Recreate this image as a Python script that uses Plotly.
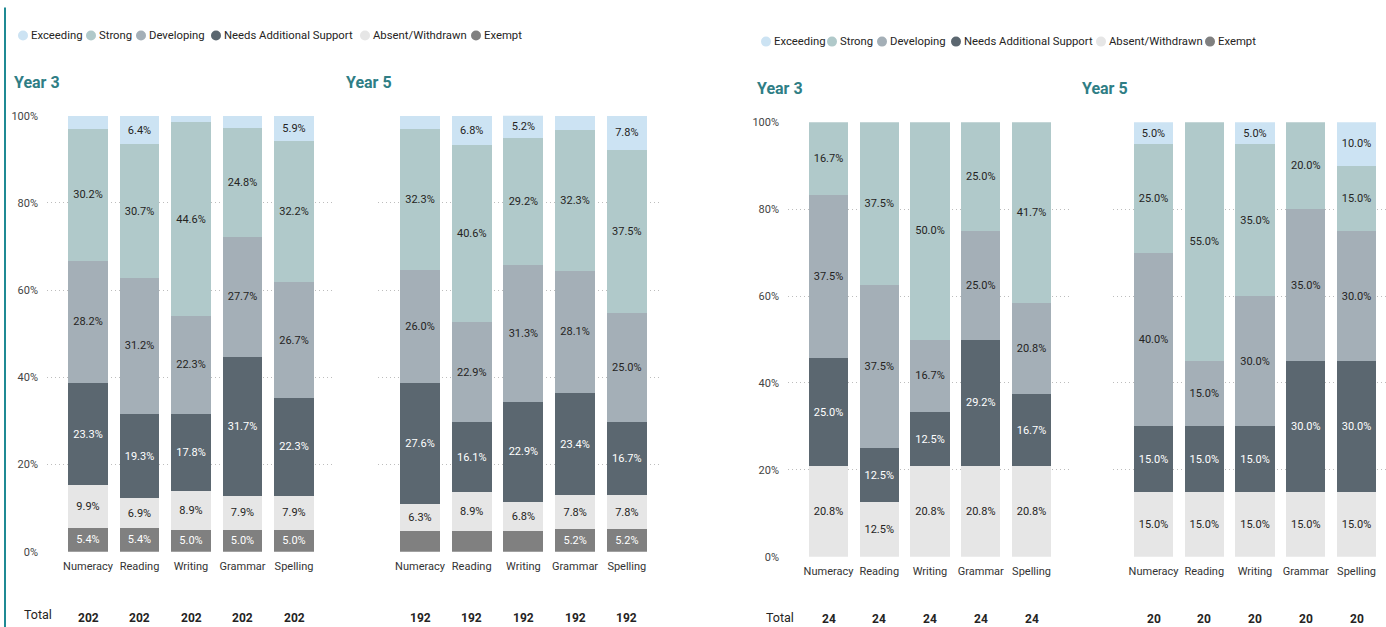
import plotly.graph_objects as go

# ---------------- DATA ----------------
categories = ["Numeracy", "Reading", "Writing", "Grammar", "Spelling"]
series_names = ["Exceeding", "Strong", "Developing", "Needs Additional Support",
                "Absent/Withdrawn", "Exempt"]
tick_values = [0, 20, 40, 60, 80, 100]

# Left report - Year 3 (percent of students)
L3_exceeding = [3.0, 6.4, 1.4, 2.9, 5.9]
L3_strong = [30.2, 30.7, 44.6, 24.8, 32.2]
L3_developing = [28.2, 31.2, 22.3, 27.7, 26.7]
L3_needs_support = [23.3, 19.3, 17.8, 31.7, 22.3]
L3_absent = [9.9, 6.9, 8.9, 7.9, 7.9]
L3_exempt = [5.4, 5.4, 5.0, 5.0, 5.0]
L3_totals = [202, 202, 202, 202, 202]

# Left report - Year 5
L5_exceeding = [3.1, 6.8, 5.2, 3.2, 7.8]
L5_strong = [32.3, 40.6, 29.2, 32.3, 37.5]
L5_developing = [26.0, 22.9, 31.3, 28.1, 25.0]
L5_needs_support = [27.6, 16.1, 22.9, 23.4, 16.7]
L5_absent = [6.3, 8.9, 6.8, 7.8, 7.8]
L5_exempt = [4.7, 4.7, 4.7, 5.2, 5.2]
L5_totals = [192, 192, 192, 192, 192]

# Right report - Year 3
R3_exceeding = [0.0, 0.0, 0.0, 0.0, 0.0]
R3_strong = [16.7, 37.5, 50.0, 25.0, 41.7]
R3_developing = [37.5, 37.5, 16.7, 25.0, 20.8]
R3_needs_support = [25.0, 12.5, 12.5, 29.2, 16.7]
R3_absent = [20.8, 12.5, 20.8, 20.8, 20.8]
R3_exempt = [0.0, 0.0, 0.0, 0.0, 0.0]
R3_totals = [24, 24, 24, 24, 24]

# Right report - Year 5
R5_exceeding = [5.0, 0.0, 5.0, 0.0, 10.0]
R5_strong = [25.0, 55.0, 35.0, 20.0, 15.0]
R5_developing = [40.0, 15.0, 30.0, 35.0, 30.0]
R5_needs_support = [15.0, 15.0, 15.0, 30.0, 30.0]
R5_absent = [15.0, 15.0, 15.0, 15.0, 15.0]
R5_exempt = [0.0, 0.0, 0.0, 0.0, 0.0]
R5_totals = [20, 20, 20, 20, 20]

# ---------------- STYLE ----------------
W, H = 1386, 627
FONT = "Roboto, Liberation Sans, sans-serif"
colors = {
    "Exceeding": "#CCE3F3",
    "Strong": "#B0C9CA",
    "Developing": "#A4AFB7",
    "Needs Additional Support": "#5B6770",
    "Absent/Withdrawn": "#E6E6E6",
    "Exempt": "#808080",
}
label_colors = {
    "Exceeding": "#252423", "Strong": "#252423", "Developing": "#252423",
    "Needs Additional Support": "#FFFFFF", "Absent/Withdrawn": "#252423",
    "Exempt": "#FFFFFF",
}
TEAL = "#2F7E85"

# vertical calibration of the captured page (observed scale/offset)
VS, VO = 0.977, 6.5


def px(x):
    return x / W


def py(y):
    return 1 - ((y - VO) / VS) / H


panels = [
    dict(data={"Exceeding": L3_exceeding, "Strong": L3_strong, "Developing": L3_developing,
               "Needs Additional Support": L3_needs_support, "Absent/Withdrawn": L3_absent,
               "Exempt": L3_exempt}, totals=L3_totals,
         dom=(47, 335), c0=88, step=51.5, y0=551, y100=116, ylabels=True, tot_y=617),
    dict(data={"Exceeding": L5_exceeding, "Strong": L5_strong, "Developing": L5_developing,
               "Needs Additional Support": L5_needs_support, "Absent/Withdrawn": L5_absent,
               "Exempt": L5_exempt}, totals=L5_totals,
         dom=(378, 660), c0=420, step=51.7, y0=551, y100=116, ylabels=False, tot_y=617),
    dict(data={"Exceeding": R3_exceeding, "Strong": R3_strong, "Developing": R3_developing,
               "Needs Additional Support": R3_needs_support, "Absent/Withdrawn": R3_absent,
               "Exempt": R3_exempt}, totals=R3_totals,
         dom=(788, 1070), c0=828.5, step=50.75, y0=556, y100=122.5, ylabels=True, tot_y=618),
    dict(data={"Exceeding": R5_exceeding, "Strong": R5_strong, "Developing": R5_developing,
               "Needs Additional Support": R5_needs_support, "Absent/Withdrawn": R5_absent,
               "Exempt": R5_exempt}, totals=R5_totals,
         dom=(1113, 1386), c0=1153.5, step=50.75, y0=556, y100=122.5, ylabels=False, tot_y=618),
]

stack_order = ["Exempt", "Absent/Withdrawn", "Needs Additional Support",
               "Developing", "Strong", "Exceeding"]

fig = go.Figure()
layout = dict(
    width=W, height=H, autosize=False,
    margin=dict(l=0, r=0, t=0, b=0, pad=0),
    paper_bgcolor="white", plot_bgcolor="white",
    barmode="stack", bargap=0.225,
    showlegend=False,
    font=dict(family=FONT, size=11, color="#333333"),
    uniformtext=dict(minsize=11, mode="show"),
)
annotations = []
shapes = []

for i, p in enumerate(panels, start=1):
    xa = "x" if i == 1 else f"x{i}"
    ya = "y" if i == 1 else f"y{i}"
    for s in stack_order:
        vals = p["data"][s]
        txt = [f"{v:.1f}%" if v >= 5 else "" for v in vals]
        fig.add_trace(go.Bar(
            x=categories, y=vals, name=s, xaxis=xa, yaxis=ya,
            marker=dict(color=colors[s], line=dict(width=0)),
            text=txt, textposition="inside", insidetextanchor="middle",
            textangle=0,
            textfont=dict(family=FONT, size=11, color=label_colors[s]),
            hovertemplate="%{x}<br>" + s + ": %{y:.1f}%<extra></extra>",
            showlegend=False,
        ))
    d0, d1 = p["dom"]
    r0 = (d0 - p["c0"]) / p["step"]
    r1 = (d1 - p["c0"]) / p["step"]
    key_x = "xaxis" if i == 1 else f"xaxis{i}"
    key_y = "yaxis" if i == 1 else f"yaxis{i}"
    layout[key_x] = dict(
        domain=[px(d0), px(d1)], range=[r0, r1], type="category",
        anchor=ya, showgrid=False, zeroline=False, showline=False,
        tickangle=0, tickfont=dict(family=FONT, size=11, color="#333333"),
        ticklabelstandoff=6, fixedrange=True,
    )
    layout[key_y] = dict(
        domain=[py(p["y0"]), py(p["y100"])], range=[0, 100],
        anchor=xa, tickmode="array", tickvals=tick_values,
        ticktext=[f"{v}%" for v in tick_values],
        showticklabels=p["ylabels"], showgrid=True, griddash="1px,3px",
        gridcolor="#BDBDBD", gridwidth=1, zeroline=False, showline=False,
        tickfont=dict(family=FONT, size=11, color="#444444"),
        ticklabelstandoff=8, fixedrange=True,
    )
    for c, t in zip(categories, p["totals"]):
        annotations.append(dict(
            x=c, y=py(p["tot_y"]), xref=xa, yref="paper", text=f"<b>{t}</b>",
            showarrow=False, xanchor="center", yanchor="middle",
            font=dict(family=FONT, size=12, color="#252423"),
        ))

# "Total" row labels
for x, y in [(22, 614), (764, 617)]:
    annotations.append(dict(
        x=px(x), y=py(y), xref="paper", yref="paper", text="Total",
        showarrow=False, xanchor="left", yanchor="middle",
        font=dict(family=FONT, size=12.5, color="#252423"),
    ))

# Panel titles
for txt, x, y in [("Year 3", 12, 83), ("Year 5", 344, 83), ("Year 3", 755, 89), ("Year 5", 1080, 89)]:
    annotations.append(dict(
        x=px(x), y=py(y), xref="paper", yref="paper", text=f"<b>{txt}</b>",
        showarrow=False, xanchor="left", yanchor="middle",
        font=dict(family=FONT, size=16, color=TEAL),
    ))

# Legends (circle markers + text)
legend_layouts = [
    (36, [23, 91, 141, 216, 365, 476]),
    (42, [766, 832, 882, 956, 1101, 1210]),
]
R = 5
for cy, centers in legend_layouts:
    for name, cx in zip(series_names, centers):
        shapes.append(dict(
            type="circle", xref="paper", yref="paper",
            x0=px(cx - R), x1=px(cx + R), y0=py(cy + R), y1=py(cy - R),
            fillcolor=colors[name], line=dict(width=0), layer="above",
        ))
        annotations.append(dict(
            x=px(cx + 6), y=py(cy), xref="paper", yref="paper", text=name,
            showarrow=False, xanchor="left", yanchor="middle",
            font=dict(family=FONT, size=11.3, color="#252423"),
        ))

# left border of the first report
shapes.append(dict(type="line", xref="paper", yref="paper",
                   x0=px(5), x1=px(5), y0=py(8), y1=py(640),
                   line=dict(color="#1F8A94", width=2)))

layout["annotations"] = annotations
layout["shapes"] = shapes
fig.update_layout(**layout)

post = ("var gd=document.getElementById('{plot_id}');"
        "document.documentElement.style.margin='0';"
        "document.body.style.margin='0';document.body.style.overflow='hidden';"
        "gd.style.position='fixed';gd.style.left='0px';gd.style.top='0px';")
fig.write_html("out.html", post_script=post,
               config={"displayModeBar": False, "staticPlot": False})
